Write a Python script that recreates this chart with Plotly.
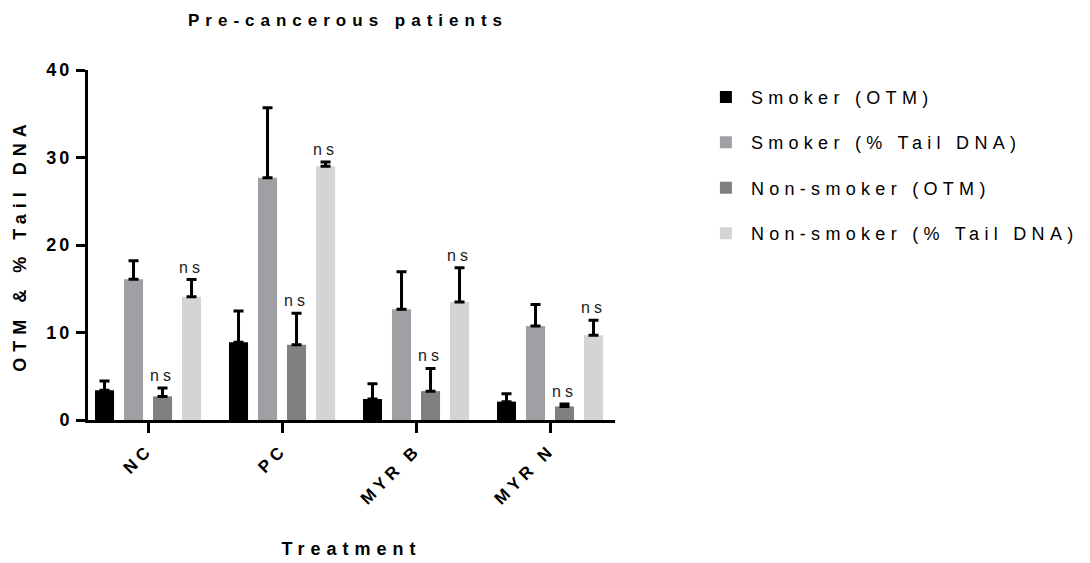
import plotly.graph_objects as go

categories = ["NC", "PC", "MYR B", "MYR N"]
series_names = ["Smoker (OTM)", "Smoker (% Tail DNA)", "Non-smoker (OTM)", "Non-smoker (% Tail DNA)"]
smoker_otm = [3.4, 8.9, 2.4, 2.1]
smoker_otm_err = [1.05, 3.55, 1.75, 0.9]
smoker_tail = [16.1, 27.7, 12.65, 10.75]
smoker_tail_err = [2.1, 8.0, 4.3, 2.45]
nonsmoker_otm = [2.7, 8.6, 3.3, 1.55]
nonsmoker_otm_err = [0.95, 3.6, 2.6, 0.28]
nonsmoker_tail = [14.1, 29.0, 13.5, 9.7]
nonsmoker_tail_err = [1.95, 0.5, 3.9, 1.7]
colors = ["#000000", "#A0A0A4", "#808080", "#D4D4D4"]
sig_labels = ["ns", "ns", "ns", "ns"]

values = [smoker_otm, smoker_tail, nonsmoker_otm, nonsmoker_tail]
errors = [smoker_otm_err, smoker_tail_err, nonsmoker_otm_err, nonsmoker_tail_err]

def spaced(t, ls):
    return f'<span style="letter-spacing:{ls}px">{t}</span>'

BARGAP = 0.134
BARGROUPGAP = 0.343
FONT = "Arial, Liberation Sans, sans-serif"

fig = go.Figure()
for i in range(4):
    fig.add_trace(go.Bar(
        x=categories, y=values[i], name=spaced(series_names[i], 5.3),
        marker=dict(color=colors[i], line=dict(width=0)),
        error_y=dict(type="data", symmetric=False, array=errors[i],
                     arrayminus=[0] * len(categories), color="#000000",
                     thickness=3, width=5),
        legendgroup=f"g{i}",
    ))

slot = (1 - BARGAP) / 4
for i in (2, 3):
    off = (i - 1.5) * slot
    for j, c in enumerate(categories):
        fig.add_annotation(
            x=j + off, y=values[i][j] + errors[i][j], xref="x", yref="y",
            text=spaced(sig_labels[j], 4), showarrow=False,
            yanchor="bottom", yshift=2,
            font=dict(family=FONT, size=16, color="#222222"),
        )

axis_font = dict(family=FONT, size=18, color="#000000")
fig.update_layout(
    width=1090, height=563,
    margin=dict(l=88, r=475, t=70, b=143, autoexpand=False),
    barmode="group", bargap=BARGAP, bargroupgap=BARGROUPGAP,
    plot_bgcolor="white", paper_bgcolor="white",
    title=dict(text="<b>" + spaced("Pre-cancerous patients", 6) + "</b>",
               x=348 / 1090, xanchor="center", y=1 - 20 / 563, yanchor="middle",
               font=dict(family=FONT, size=17, color="#000000")),
    legend=dict(x=1.163, y=0.975, xanchor="left", yanchor="top",
                font=dict(family=FONT, size=18, color="#000000"),
                tracegroupgap=19, itemwidth=40, bgcolor="rgba(0,0,0,0)"),
    showlegend=True,
)
fig.update_xaxes(
    range=[-0.448, 3.485], showline=True, linecolor="#000000", linewidth=3,
    ticks="outside", ticklen=10, tickwidth=3, tickcolor="#000000",
    tickangle=-45, tickfont=dict(family=FONT, size=17, color="#000000"),
    tickvals=list(range(len(categories))),
    ticktext=["<b>" + spaced(c, 4.5) + "</b>" for c in categories],
    title=dict(text="<b>" + spaced("Treatment", 6) + "</b>", standoff=36, font=axis_font),
    showgrid=False, zeroline=False, automargin=False,
)
fig.update_yaxes(
    range=[0, 40], showline=True, linecolor="#000000", linewidth=3,
    ticks="outside", ticklen=9, tickwidth=3, tickcolor="#000000",
    tickvals=[0, 10, 20, 30, 40],
    ticktext=["<b>" + spaced(str(v), 3) + "</b>" for v in [0, 10, 20, 30, 40]],
    tickfont=axis_font,
    title=dict(text="<b>" + spaced("OTM & % Tail DNA", 6) + "</b>", standoff=16, font=axis_font),
    showgrid=False, zeroline=False, automargin=False,
)
fig.write_html("out.html", config={"displayModeBar": False},
               post_script="document.body.style.margin='0';")
